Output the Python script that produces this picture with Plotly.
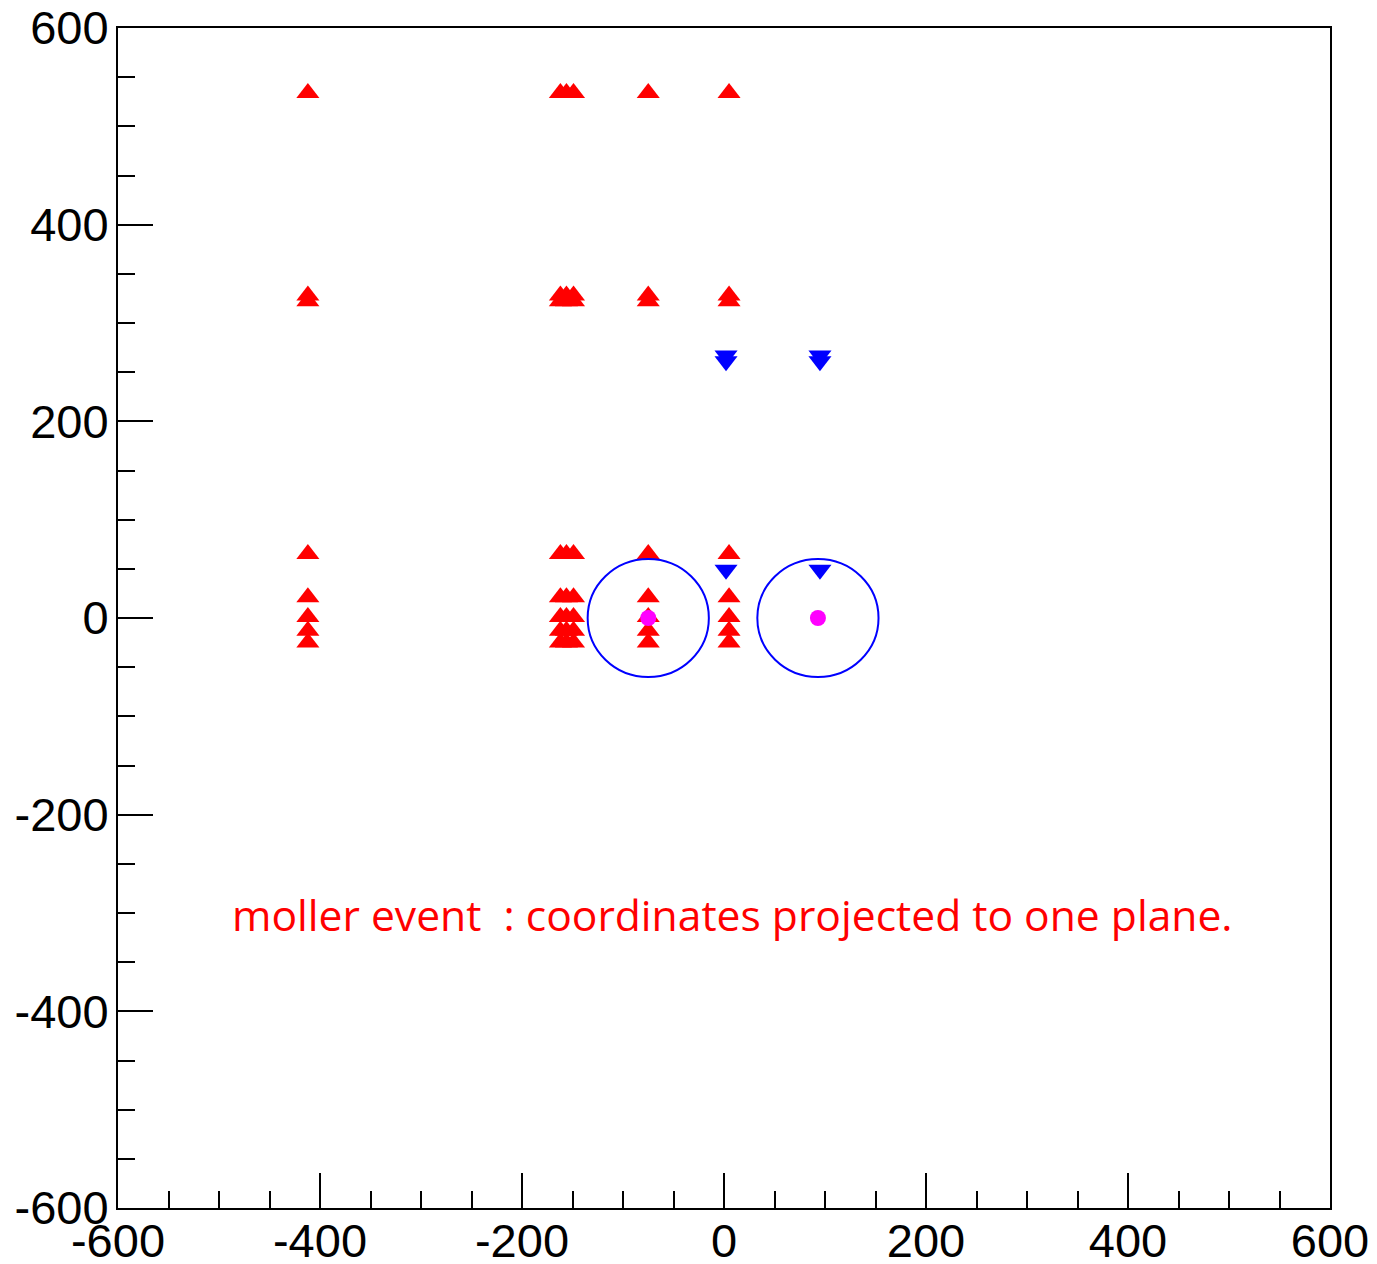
import plotly.graph_objects as go

# Red hits (triangle-up): columns and rows
red_cols = [-412, -162, -156, -149, -75, 5]
red_rows = [534, 328, 322, 65, 21, 1, -13, -25]

# Blue hits (triangle-down)
blue_x = [2, 2, 95, 95, 2, 95]
blue_y = [267, 261, 267, 261, 49, 49]

# Magenta centres
mag_x = [-75, 93]
mag_y = [0, 0]

# Circles around the centres
circ_x = [-75, 93]
circ_y = [0, 0]
circ_r = [60, 60]

label_text = "moller event  : coordinates projected to one plane."
label_x = -489
label_y = -301

tick_vals = [-600, -400, -200, 0, 200, 400, 600]
tick_text = ["-600", "-400", "-200", "0", "200", "400", "600"]

red_x = [c for c in red_cols for r in red_rows]
red_y = [r for c in red_cols for r in red_rows]

fig = go.Figure()
fig.add_trace(go.Scatter(x=red_x, y=red_y, mode="markers",
                         marker=dict(symbol="triangle-up", color="#ff0000", size=20),
                         showlegend=False, hoverinfo="x+y"))
fig.add_trace(go.Scatter(x=blue_x, y=blue_y, mode="markers",
                         marker=dict(symbol="triangle-down", color="#0000ff", size=20),
                         showlegend=False))
fig.add_trace(go.Scatter(x=mag_x, y=mag_y, mode="markers",
                         marker=dict(symbol="circle", color="#ff00ff", size=16),
                         showlegend=False))

for cx, cy, r in zip(circ_x, circ_y, circ_r):
    fig.add_shape(type="circle", xref="x", yref="y",
                  x0=cx - r, x1=cx + r, y0=cy - r, y1=cy + r,
                  line=dict(color="#0000ff", width=2))

fig.add_annotation(x=label_x, y=label_y, text=label_text, showarrow=False,
                   xanchor="left", yanchor="middle",
                   font=dict(family="Open Sans", size=42.6, color="#ff0000"))

axis_common = dict(
    range=[-600, 600], tickvals=tick_vals, ticktext=tick_text,
    ticks="inside", ticklen=35, tickwidth=2, tickcolor="black",
    showline=True, linecolor="black", linewidth=2, mirror=True,
    showgrid=False, zeroline=False, automargin=False,
    ticklabeloverflow="allow",
    tickfont=dict(family="Liberation Sans", size=47, color="black"),
    minor=dict(ticks="inside", ticklen=17, tickwidth=2, tickcolor="black",
               dtick=50, tick0=0, showgrid=False),
)

fig.update_xaxes(**axis_common, ticklabelstandoff=-9)
fig.update_yaxes(**axis_common, ticklabelstandoff=-2)

fig.update_layout(
    width=1377, height=1264,
    margin=dict(l=110, r=55, t=20, b=64),
    paper_bgcolor="white", plot_bgcolor="white",
)

fig.write_html("out.html")
